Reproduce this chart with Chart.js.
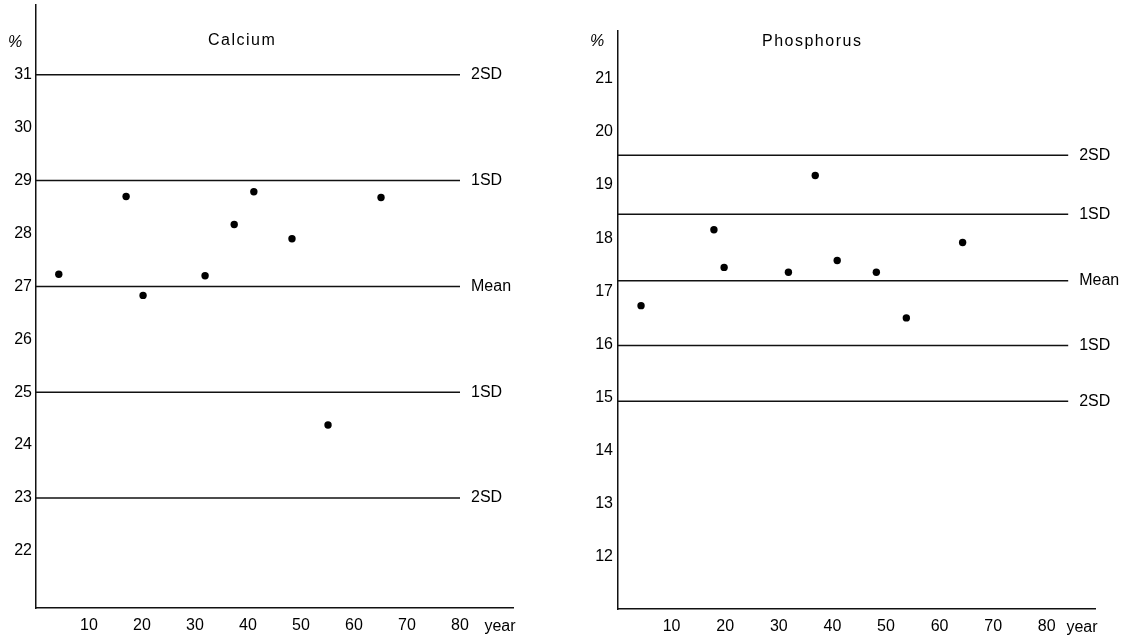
<!DOCTYPE html>
<html>
<head>
<meta charset="utf-8">
<title>Calcium and Phosphorus by age</title>
<script src="https://cdn.jsdelivr.net/npm/chart.js@4/dist/chart.umd.min.js"></script>
<style>
  body { margin: 0; background: #fff; }
  #wrap { position: relative; width: 1134px; height: 640px; }
  .panel { position: absolute; top: 0; width: 567px; height: 640px; }
</style>
</head>
<body>
<div id="wrap">
  <div class="panel" style="left:0"><canvas id="calcium" width="567" height="640"></canvas></div>
  <div class="panel" style="left:567px"><canvas id="phosphorus" width="567" height="640"></canvas></div>
</div>

<script>
// --- data ---
const xTicks = [10, 20, 30, 40, 50, 60, 70, 80];
const sdLabels = ['2SD', '1SD', 'Mean', '1SD', '2SD'];

const caAge   = [4.3, 17.0, 20.2, 31.9, 37.4, 41.1, 48.3, 55.1, 65.1];
const caValue = [27.23, 28.70, 26.83, 27.20, 28.17, 28.79, 27.90, 24.38, 28.68];
const caLevels = [31, 29, 27, 25, 23];
const caTicks = [22, 23, 24, 25, 26, 27, 28, 29, 30, 31];

const pAge   = [4.3, 17.9, 19.8, 31.8, 36.8, 40.9, 48.2, 53.8, 64.3];
const pValue = [16.73, 18.16, 17.45, 17.36, 19.18, 17.58, 17.36, 16.5, 17.92];
const pLevels = [19.56, 18.45, 17.2, 15.98, 14.93];
const pTicks = [12, 13, 14, 15, 16, 17, 18, 19, 20, 21];

const INK = '#000';
const FONT = "'Liberation Sans', Arial, sans-serif";
Chart.defaults.font.family = FONT;
Chart.defaults.color = INK;

// texts the axes can't place themselves: %, title, year, SD labels
const annotations = {
  id: 'annotations',
  afterDatasetsDraw(chart, args, opts) {
    const { ctx, chartArea } = chart;
    const xs = chart.scales.x, ys = chart.scales.y;
    ctx.save();
    ctx.fillStyle = INK;
    ctx.font = '16px ' + FONT;
    ctx.textBaseline = 'middle';

    ctx.textAlign = 'left';
    opts.levels.forEach((lv, i) => {
      ctx.fillText(sdLabels[i], xs.getPixelForValue(opts.lineEnd) + 11, ys.getPixelForValue(lv));
    });
    ctx.letterSpacing = '1.5px';
    ctx.fillText(opts.title, opts.titleX, opts.titleY);
    ctx.letterSpacing = '0px';

    ctx.textAlign = 'center';
    ctx.font = 'italic 16px ' + FONT;
    ctx.fillText('%', chartArea.left - 21, opts.pctY);
    ctx.font = '16px ' + FONT;
    ctx.fillText('year', chartArea.right - 13, chartArea.bottom + 19);
    ctx.restore();
  }
};

function makePanel(id, p) {
  const refLines = p.levels.map(lv => ({
    data: [{ x: 0, y: lv }, { x: p.lineEnd, y: lv }],
    showLine: true,
    borderColor: '#111',
    borderWidth: 1.5,
    pointRadius: 0
  }));

  new Chart(document.getElementById(id), {
    type: 'scatter',
    data: {
      datasets: [
        ...refLines,
        {
          data: p.ages.map((a, i) => ({ x: a, y: p.values[i] })),
          pointRadius: 3.7,
          pointBackgroundColor: '#000',
          pointBorderWidth: 0
        }
      ]
    },
    options: {
      responsive: false,
      animation: false,
      layout: { padding: { top: p.padTop, right: p.padRight, left: 0, bottom: 0 } },
      plugins: {
        legend: { display: false },
        tooltip: { enabled: false },
        annotations: p.notes
      },
      scales: {
        x: {
          type: 'linear',
          min: 0,
          max: p.xMax,
          grid: { display: false, drawTicks: false },
          border: { display: true, color: '#111', width: 1.5 },
          ticks: { font: { size: 16 }, padding: 8, maxRotation: 0, autoSkip: false },
          afterBuildTicks: s => { s.ticks = xTicks.map(v => ({ value: v })); },
          afterFit: s => { s.height = p.xAxisH; s.paddingLeft = 0; s.paddingRight = 0; }
        },
        y: {
          type: 'linear',
          min: p.yMin,
          max: p.yMax,
          grid: { display: false, drawTicks: false },
          border: { display: true, color: '#111', width: 1.5 },
          ticks: { font: { size: 16 }, padding: p.yPad, autoSkip: false },
          afterBuildTicks: s => { s.ticks = p.yTicks.map(v => ({ value: v })); },
          afterFit: s => { s.width = p.yAxisW; s.paddingTop = 0; s.paddingBottom = 0; }
        }
      }
    },
    plugins: [annotations]
  });
}

makePanel('calcium', {
  ages: caAge, values: caValue, levels: caLevels, yTicks: caTicks,
  yMin: 20.92, yMax: 32.32, xMax: 90, lineEnd: 80,
  padTop: 5, padRight: 54, yAxisW: 36, xAxisH: 32, yPad: 4,
  notes: { levels: caLevels, lineEnd: 80, title: 'Calcium', titleX: 208, titleY: 41, pctY: 43 }
});

makePanel('phosphorus', {
  ages: pAge, values: pValue, levels: pLevels, yTicks: pTicks,
  yMin: 11.02, yMax: 21.9, xMax: 89, lineEnd: 84,
  padTop: 31, padRight: 39, yAxisW: 51, xAxisH: 31, yPad: 5,
  notes: { levels: pLevels, lineEnd: 84, title: 'Phosphorus', titleX: 195, titleY: 42, pctY: 42 }
});
</script>
</body>
</html>
